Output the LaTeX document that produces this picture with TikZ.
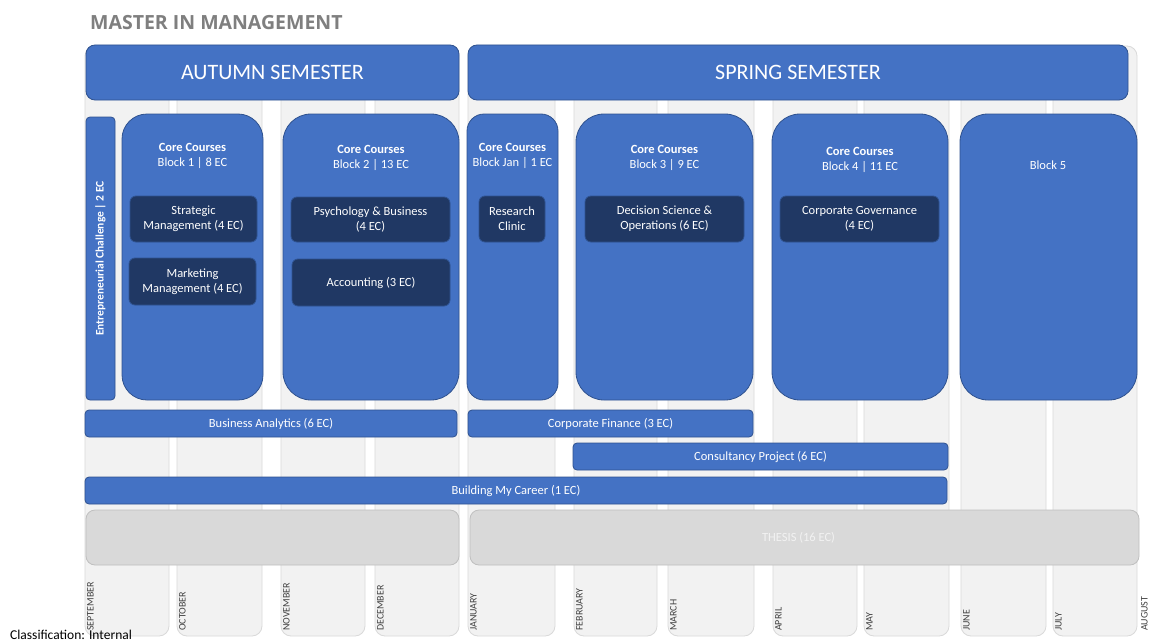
\documentclass[tikz,border=0pt]{standalone}
\usepackage{fontspec}
\setmainfont{Carlito}
\newfontfamily\titlefont{Open Sans}
\definecolor{blu}{HTML}{4472C4}
\definecolor{bluline}{HTML}{2F528F}
\definecolor{navy}{HTML}{203864}
\definecolor{colfill}{HTML}{F2F2F2}
\definecolor{colline}{HTML}{D9D9D9}
\definecolor{thfill}{HTML}{D9D9D9}
\definecolor{thline}{HTML}{BFBFBF}
\definecolor{titlegray}{HTML}{7F7F7F}
\definecolor{monthgray}{HTML}{404040}
\newcommand{\bx}[7]{\node[#2, anchor=north west, minimum width={#5-#3}, minimum height={#6-#4}] (#1) at (#3,#4) {#7};}
\tikzset{
  col/.style={draw=colline, fill=colfill, rounded corners=10pt, line width=0.8pt, inner sep=0pt, outer sep=0pt},
  sem/.style={draw=bluline, fill=blu, rounded corners=9pt, line width=0.8pt, text=white, font=\fontsize{22}{26}\selectfont, inner sep=0pt, outer sep=0pt},
  blk/.style={draw=bluline, fill=blu, line width=0.8pt, inner sep=0pt, outer sep=0pt},
  inn/.style={draw=bluline, fill=navy, rounded corners=6pt, line width=0.8pt, text=white, align=center, font=\fontsize{12.5}{15}\selectfont, inner sep=0pt, outer sep=0pt},
  bar/.style={draw=bluline, fill=blu, rounded corners=4pt, line width=0.8pt, text=white, font=\fontsize{12.5}{15}\selectfont, inner sep=0pt, outer sep=0pt},
  gry/.style={draw=thline, fill=thfill, rounded corners=9pt, line width=0.8pt, text=colfill, font=\fontsize{12.5}{15}\selectfont, inner sep=0pt, outer sep=0pt},
  head/.style={text=white, align=center, font=\fontsize{12.5}{15}\selectfont, inner sep=0pt},
  mon/.style={rotate=90, anchor=north west, font=\fontsize{10}{12}\selectfont, text=monthgray, inner sep=0pt}
}
\begin{document}
\begin{tikzpicture}[x=1pt,y=-1pt]
\useasboundingbox (0,0) rectangle (1150,642);
\fill[white] (0,0) rectangle (1150,642);
% title
\node[anchor=base west, inner sep=0pt, text=titlegray, font=\titlefont\bfseries\fontsize{19.5}{23}\selectfont] (title) at (90,29.5) {MASTER IN MANAGEMENT};
% month columns
\bx{cSep}{col}{85}{46}{169}{636}{}
\bx{cOct}{col}{177}{46}{262}{636}{}
\bx{cNov}{col}{281}{46}{365}{636}{}
\bx{cDec}{col}{375}{46}{459}{636}{}
\bx{cJan}{col}{468}{46}{555}{636}{}
\bx{cFeb}{col}{574}{46}{657}{636}{}
\bx{cMar}{col}{668}{46}{754}{636}{}
\bx{cApr}{col}{773}{46}{857}{636}{}
\bx{cMay}{col}{864}{46}{949}{636}{}
\bx{cJun}{col}{961}{46}{1046}{636}{}
\bx{cJul}{col}{1053}{46}{1137}{636}{}
% semesters
\bx{aut}{sem}{86}{45}{459}{100}{AUTUMN SEMESTER}
\bx{spr}{sem}{468}{45}{1128}{100}{SPRING SEMESTER}
% entrepreneurial challenge
\node[blk, rounded corners=4pt, rotate=90, minimum width=283, minimum height=29, text=white, font=\bfseries\fontsize{11.5}{14}\selectfont] (ent) at (100.5,258.5) {Entrepreneurial Challenge | 2 EC};
% core blocks
\bx{b1}{blk, rounded corners=25pt}{122}{114}{263}{400}{}
\bx{b2}{blk, rounded corners=28pt}{283}{114}{459}{400}{}
\bx{bj}{blk, rounded corners=17pt}{467}{114}{558}{400}{}
\bx{b3}{blk, rounded corners=28pt}{576}{114}{753}{400}{}
\bx{b4}{blk, rounded corners=28pt}{772}{114}{948}{400}{}
\bx{b5}{blk, rounded corners=28pt}{960}{114}{1137}{400}{}
\node[head] (b1h) at (192.5,155.5) {\textbf{Core Courses}\\Block 1 | 8 EC};
\node[head] (b2h) at (371,157.5) {\textbf{Core Courses}\\Block 2 | 13 EC};
\node[head] (bjh) at (512.5,155.5) {\textbf{Core Courses}\\Block Jan | 1 EC};
\node[head] (b3h) at (664.5,157.5) {\textbf{Core Courses}\\Block 3 | 9 EC};
\node[head] (b4h) at (860,159.5) {\textbf{Core Courses}\\Block 4 | 11 EC};
\node[head] (b5h) at (1048,165) {Block 5};
% inner courses
\bx{sm}{inn}{130}{196}{257}{242}{Strategic\\Management (4 EC)}
\bx{mm}{inn}{129}{258}{256}{305}{Marketing\\Management (4 EC)}
\bx{pb}{inn}{291}{197}{450}{242}{Psychology \& Business\\(4 EC)}
\bx{ac}{inn}{292}{259}{450}{306}{Accounting (3 EC)}
\bx{rc}{inn}{479}{196}{545}{242}{Research\\Clinic}
\bx{ds}{inn}{585}{196}{744}{242}{Decision Science \&\\Operations (6 EC)}
\bx{cg}{inn}{780}{196}{939}{242}{Corporate Governance\\(4 EC)}
% bars
\bx{ba}{bar}{85}{410}{457}{437}{Business Analytics (6 EC)}
\bx{cf}{bar}{468}{410}{753}{437}{Corporate Finance (3 EC)}
\bx{cp}{bar}{573}{443}{948}{470}{Consultancy Project (6 EC)}
\bx{bmc}{bar}{85}{477}{947}{504}{Building My Career (1 EC)}
% grey boxes
\bx{g1}{gry}{86}{510}{459}{565}{}
\bx{th}{gry}{470}{510}{1139}{565}{THESIS (16 EC)\hspace*{12pt}}
% month labels
\node[mon] (lSep) at (87,631) {SEPTEMBER};
\node[mon] (lOct) at (179,631) {OCTOBER};
\node[mon] (lNov) at (283,631) {NOVEMBER};
\node[mon] (lDec) at (377,631) {DECEMBER};
\node[mon] (lJan) at (470,631) {JANUARY};
\node[mon] (lFeb) at (576,631) {FEBRUARY};
\node[mon] (lMar) at (670,631) {MARCH};
\node[mon] (lApr) at (775,631) {APRIL};
\node[mon] (lMay) at (866,631) {MAY};
\node[mon] (lJun) at (963,631) {JUNE};
\node[mon] (lJul) at (1055,631) {JULY};
\node[mon] (lAug) at (1141,631) {AUGUST};
% classification
\node[anchor=base west, inner sep=0pt, font=\fontsize{13.5}{16}\selectfont] (cls) at (10,639) {Classification: Internal};
\end{tikzpicture}
\end{document}
